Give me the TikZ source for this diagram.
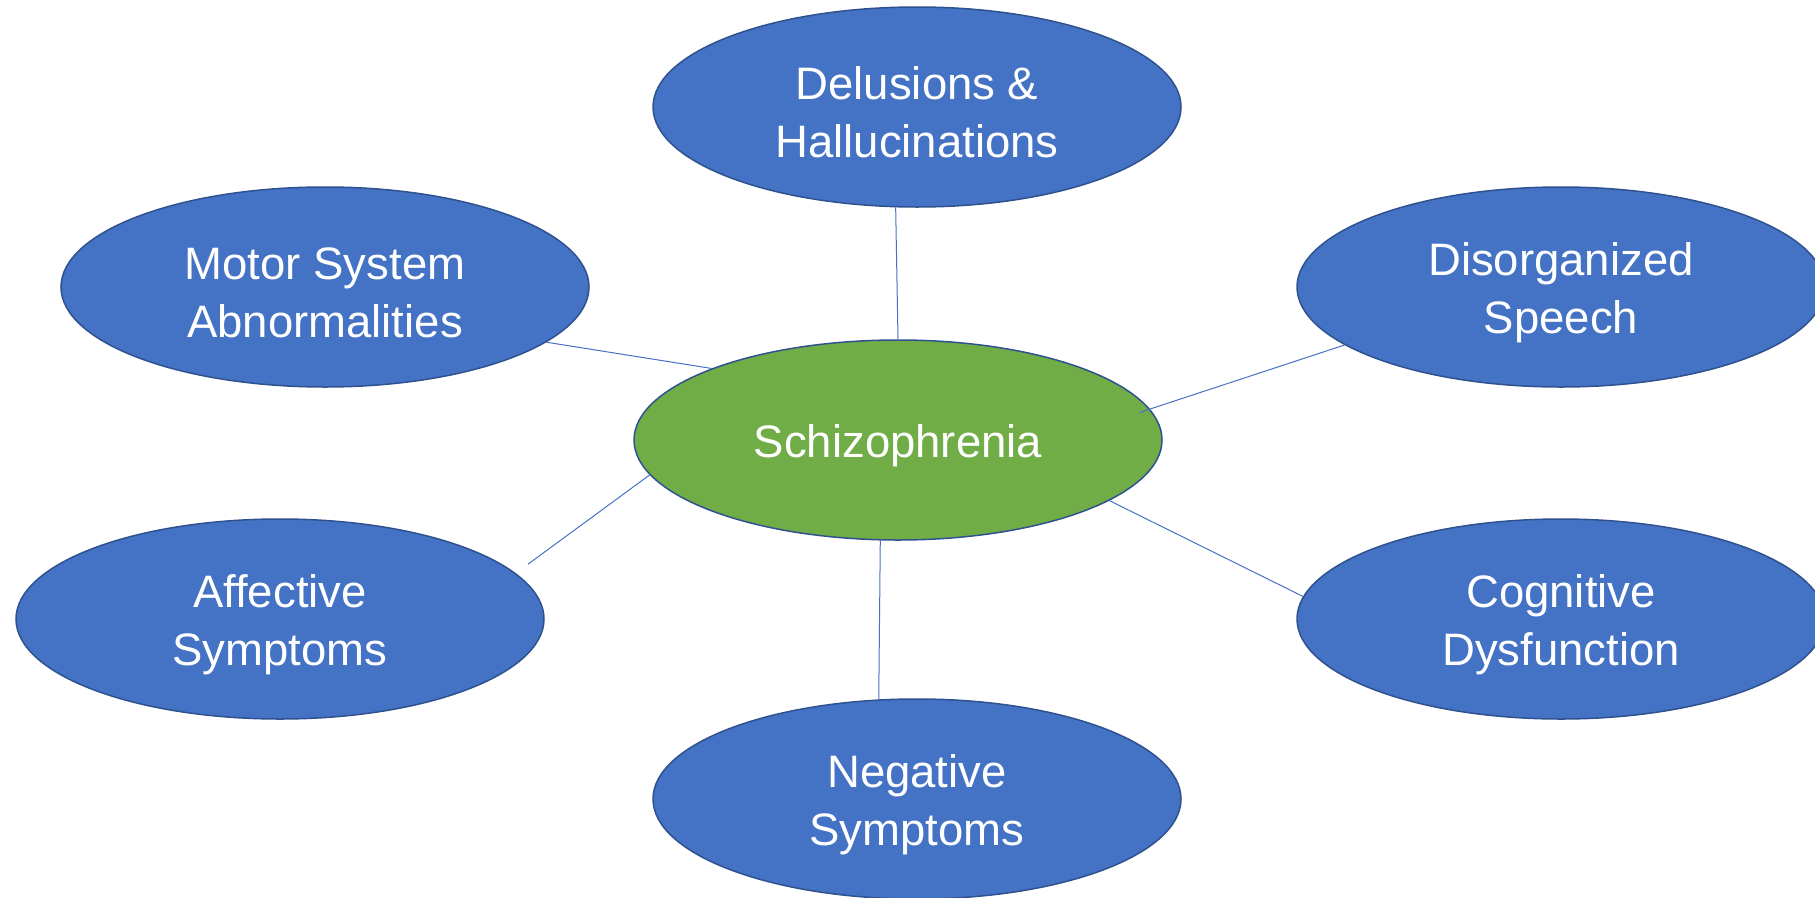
\documentclass[tikz,border=0pt]{standalone}
\usepackage{fontspec}
\setmainfont{Liberation Sans}
\usetikzlibrary{shapes.geometric}
\definecolor{nodeblue}{HTML}{4472C4}
\definecolor{nodegreen}{HTML}{70AD47}
\definecolor{rimblue}{HTML}{2F528F}
\newcommand{\topstrut}{\rule{0pt}{44pt}}
\begin{document}
\begin{tikzpicture}[x=1pt,y=-1pt,
  bubble/.style={ellipse, draw=rimblue, line width=1.5pt, fill=nodeblue,
    minimum width=528pt, minimum height=200pt, inner sep=0pt, text=white,
    align=center, font=\fontsize{45.5}{58}\selectfont},
  hub/.style={bubble, fill=nodegreen},
  link/.style={draw=nodeblue, line width=1pt}]
\useasboundingbox (0,0) rectangle (1815,897);
\clip (0,0) rectangle (1815,897);
\node[hub] (cen) at (898,440) {\topstrut Schizophrenia};
\node[bubble] (del) at (917,107) {\topstrut Delusions \&\\Hallucinations};
\node[bubble] (mot) at (325,287) {\topstrut Motor System\\Abnormalities};
\node[bubble] (dis) at (1561,287) {\topstrut Disorganized\\Speech};
\node[bubble] (aff) at (280,619) {\topstrut Affective\\Symptoms};
\node[bubble] (cog) at (1561,619) {\topstrut Cognitive\\Dysfunction};
\node[bubble] (neg) at (917,799) {\topstrut Negative\\Symptoms};
\draw[link] (del.258) -- (cen.90);
\draw[link] (mot.346) -- (cen.159);
\draw[link, shorten >=-11pt] (dis.195) -- (cen.7);
\draw[link, shorten <=15pt] (aff.11) -- (cen.188);
\draw[link] (cog.175) -- (cen.344);
\draw[link] (neg.111) -- (cen.260);
\end{tikzpicture}
\end{document}
